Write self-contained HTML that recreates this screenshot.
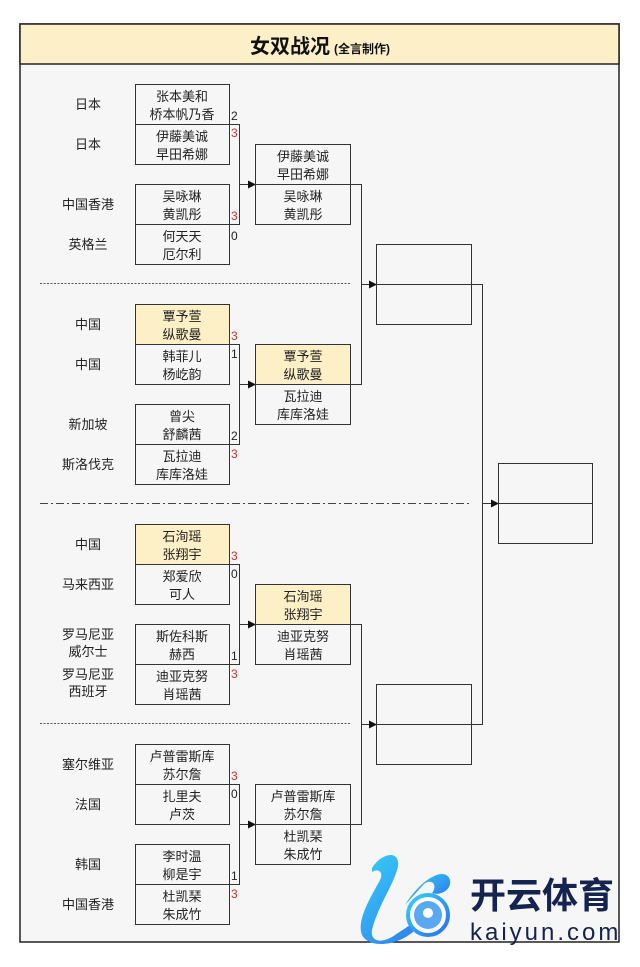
<!DOCTYPE html>
<html><head><meta charset="utf-8"><style>
html,body{margin:0;padding:0;background:#fff;}
svg{display:block;}
text{font-family:"Liberation Sans","Noto Sans CJK SC",sans-serif;}
</style></head><body>
<svg width="640" height="967" viewBox="0 0 640 967" xmlns="http://www.w3.org/2000/svg">
<defs>
<marker id="a" markerWidth="8" markerHeight="8" refX="7" refY="4" orient="auto" markerUnits="userSpaceOnUse"><path d="M0,0 L8,4 L0,8z" fill="#111"/></marker>
<linearGradient id="g" x1="0" y1="0" x2="1" y2="1"><stop offset="0" stop-color="#38d0f5"/><stop offset="1" stop-color="#2a6ff0"/></linearGradient>
</defs>
<rect x="20" y="24" width="599" height="918" fill="#f6f6f6" stroke="#222" stroke-width="1.5"/>
<rect x="20" y="24" width="599" height="40" fill="#fdf0c8" stroke="#222" stroke-width="1.5"/>
<text x="320" y="53" font-size="20" font-weight="bold" text-anchor="middle" fill="#111">女双战况<tspan font-size="12" dx="4">(全言制作)</tspan></text>

<g stroke="#444" stroke-width="1" fill="none">
<line x1="40" y1="283.5" x2="350" y2="283.5" stroke-dasharray="2,1.5" stroke="#555"/>
<line x1="40" y1="503.5" x2="470" y2="503.5" stroke-dasharray="8,3,2,3"/>
<line x1="40" y1="723.5" x2="350" y2="723.5" stroke-dasharray="2,1.5" stroke="#555"/>
</g>

<g stroke="#333" stroke-width="1">
<rect x="135.5" y="304.5" width="94" height="40" fill="#fdefc6"/>
<rect x="135.5" y="524.5" width="94" height="40" fill="#fdefc6"/>
<rect x="255.5" y="344.5" width="95" height="40" fill="#fdefc6"/>
<rect x="255.5" y="584.5" width="95" height="40" fill="#fdefc6"/>
</g>

<g stroke="#333" stroke-width="1" fill="none">
<rect x="135.5" y="84.5" width="94" height="80"/><line x1="135" y1="124.5" x2="240" y2="124.5"/>
<rect x="135.5" y="184.5" width="94" height="80"/><line x1="135" y1="224.5" x2="240" y2="224.5"/>
<rect x="135.5" y="304.5" width="94" height="80"/><line x1="135" y1="344.5" x2="240" y2="344.5"/>
<rect x="135.5" y="404.5" width="94" height="80"/><line x1="135" y1="444.5" x2="240" y2="444.5"/>
<rect x="135.5" y="524.5" width="94" height="80"/><line x1="135" y1="564.5" x2="240" y2="564.5"/>
<rect x="135.5" y="624.5" width="94" height="80"/><line x1="135" y1="664.5" x2="240" y2="664.5"/>
<rect x="135.5" y="744.5" width="94" height="80"/><line x1="135" y1="784.5" x2="240" y2="784.5"/>
<rect x="135.5" y="844.5" width="94" height="80"/><line x1="135" y1="884.5" x2="240" y2="884.5"/>
<line x1="239.5" y1="124" x2="239.5" y2="225"/><line x1="240" y1="184.5" x2="255" y2="184.5" marker-end="url(#a)"/>
<line x1="239.5" y1="344" x2="239.5" y2="445"/><line x1="240" y1="384.5" x2="255" y2="384.5" marker-end="url(#a)"/>
<line x1="239.5" y1="564" x2="239.5" y2="665"/><line x1="240" y1="624.5" x2="255" y2="624.5" marker-end="url(#a)"/>
<line x1="239.5" y1="784" x2="239.5" y2="885"/><line x1="240" y1="824.5" x2="255" y2="824.5" marker-end="url(#a)"/>
<rect x="255.5" y="144.5" width="95" height="80"/><line x1="255" y1="184.5" x2="361" y2="184.5"/>
<rect x="255.5" y="344.5" width="95" height="80"/><line x1="255" y1="384.5" x2="361" y2="384.5"/>
<rect x="255.5" y="584.5" width="95" height="80"/><line x1="255" y1="624.5" x2="361" y2="624.5"/>
<rect x="255.5" y="784.5" width="95" height="80"/><line x1="255" y1="824.5" x2="361" y2="824.5"/>
<line x1="361.5" y1="184" x2="361.5" y2="385"/><line x1="361" y1="284.5" x2="376" y2="284.5" marker-end="url(#a)"/>
<line x1="361.5" y1="624" x2="361.5" y2="825"/><line x1="361" y1="724.5" x2="376" y2="724.5" marker-end="url(#a)"/>
<rect x="376.5" y="244.5" width="95" height="80"/><line x1="376" y1="284.5" x2="483" y2="284.5"/>
<rect x="376.5" y="684.5" width="95" height="80"/><line x1="376" y1="724.5" x2="483" y2="724.5"/>
<line x1="482.5" y1="284" x2="482.5" y2="725"/><line x1="482" y1="503.5" x2="498" y2="503.5" marker-end="url(#a)"/>
<rect x="498.5" y="463.5" width="94" height="80"/><line x1="498" y1="503.5" x2="593" y2="503.5"/>
</g>

<g font-size="13" fill="#222" text-anchor="middle">
<text x="88" y="109">日本</text>
<text x="88" y="149">日本</text>
<text x="88" y="209">中国香港</text>
<text x="88" y="249">英格兰</text>
<text x="88" y="329">中国</text>
<text x="88" y="369">中国</text>
<text x="88" y="429">新加坡</text>
<text x="88" y="469">斯洛伐克</text>
<text x="88" y="549">中国</text>
<text x="88" y="589">马来西亚</text>
<text x="88" y="639">罗马尼亚</text><text x="88" y="656">威尔士</text>
<text x="88" y="679">罗马尼亚</text><text x="88" y="696">西班牙</text>
<text x="88" y="769">塞尔维亚</text>
<text x="88" y="809">法国</text>
<text x="88" y="869">韩国</text>
<text x="88" y="909">中国香港</text>
<text x="182" y="101">张本美和</text><text x="182" y="119">桥本帆乃香</text>
<text x="182" y="141">伊藤美诚</text><text x="182" y="159">早田希娜</text>
<text x="182" y="201">吴咏琳</text><text x="182" y="219">黄凯彤</text>
<text x="182" y="241">何天天</text><text x="182" y="259">厄尔利</text>
<text x="182" y="321">覃予萱</text><text x="182" y="339">纵歌曼</text>
<text x="182" y="361">韩菲儿</text><text x="182" y="379">杨屹韵</text>
<text x="182" y="421">曾尖</text><text x="182" y="439">舒麟茜</text>
<text x="182" y="461">瓦拉迪</text><text x="182" y="479">库库洛娃</text>
<text x="182" y="541">石洵瑶</text><text x="182" y="559">张翔宇</text>
<text x="182" y="581">郑爱欣</text><text x="182" y="599">可人</text>
<text x="182" y="641">斯佐科斯</text><text x="182" y="659">赫西</text>
<text x="182" y="681">迪亚克努</text><text x="182" y="699">肖瑶茜</text>
<text x="182" y="761">卢普雷斯库</text><text x="182" y="779">苏尔詹</text>
<text x="182" y="801">扎里夫</text><text x="182" y="819">卢茨</text>
<text x="182" y="861">李时温</text><text x="182" y="879">柳是宇</text>
<text x="182" y="901">杜凯琹</text><text x="182" y="919">朱成竹</text>
<text x="303" y="161">伊藤美诚</text><text x="303" y="179">早田希娜</text>
<text x="303" y="201">吴咏琳</text><text x="303" y="219">黄凯彤</text>
<text x="303" y="361">覃予萱</text><text x="303" y="379">纵歌曼</text>
<text x="303" y="401">瓦拉迪</text><text x="303" y="419">库库洛娃</text>
<text x="303" y="601">石洵瑶</text><text x="303" y="619">张翔宇</text>
<text x="303" y="641">迪亚克努</text><text x="303" y="659">肖瑶茜</text>
<text x="303" y="801">卢普雷斯库</text><text x="303" y="819">苏尔詹</text>
<text x="303" y="841">杜凯琹</text><text x="303" y="859">朱成竹</text>
</g>
<g font-size="12" fill="#222">
<text x="231" y="120">2</text><text x="231" y="137" fill="#d03030">3</text>
<text x="231" y="220" fill="#d03030">3</text><text x="231" y="240">0</text>
<text x="231" y="340" fill="#d03030">3</text><text x="231" y="358">1</text>
<text x="231" y="440">2</text><text x="231" y="458" fill="#d03030">3</text>
<text x="231" y="560" fill="#d03030">3</text><text x="231" y="578">0</text>
<text x="231" y="660">1</text><text x="231" y="678" fill="#d03030">3</text>
<text x="231" y="780" fill="#d03030">3</text><text x="231" y="798">0</text>
<text x="231" y="880">1</text><text x="231" y="898" fill="#d03030">3</text>
</g>

<g>
<path d="M372,868 C382,852 400,850 398,866 C394,885 378,905 372,930 C370,942 382,944 395,935 L440,905 L415,930 C400,945 370,950 362,935 C356,920 372,895 380,880 C384,872 378,868 372,872z" fill="url(#g)"/>
<path d="M405,905 C420,880 445,865 450,880 C452,890 440,896 432,893 C438,885 432,878 424,884z" fill="url(#g)"/>
<circle cx="428" cy="915" r="20" fill="#fff" stroke="url(#g)" stroke-width="4"/>
<circle cx="428" cy="915" r="14" fill="#5aa8f0"/>
<circle cx="428" cy="913" r="5" fill="#fff"/>
<text x="470" y="908" font-size="36" font-weight="bold" fill="#14234f" font-family="'Noto Sans CJK SC',sans-serif">开云体育</text>
<text x="470" y="940" font-size="24" fill="#14234f" letter-spacing="3">kaiyun.com</text>
</g>
</svg>
</body></html>
